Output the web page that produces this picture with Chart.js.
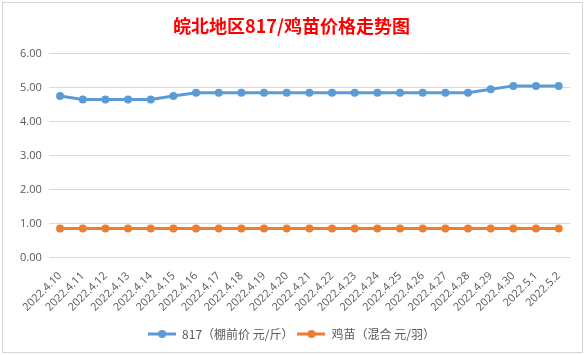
<!DOCTYPE html>
<html>
<head>
<meta charset="utf-8">
<script src="https://cdn.jsdelivr.net/npm/chart.js@4/dist/chart.umd.min.js"></script>
<style>
  html,body{margin:0;padding:0;background:#fff;}
  #wrap{position:absolute;left:2px;top:2px;width:579px;height:349px;border:1px solid #d4d4dc;background:#fff;}
  canvas{display:block;}
</style>
</head>
<body>
<div id="wrap"><canvas id="c" width="579" height="349"></canvas></div>
<script>
const titleText = '皖北地区817/鸡苗价格走势图';
const categories = ['2022.4.10','2022.4.11','2022.4.12','2022.4.13','2022.4.14','2022.4.15','2022.4.16','2022.4.17','2022.4.18','2022.4.19','2022.4.20','2022.4.21','2022.4.22','2022.4.23','2022.4.24','2022.4.25','2022.4.26','2022.4.27','2022.4.28','2022.4.29','2022.4.30','2022.5.1','2022.5.2'];
const series817Name = '817（棚前价 元/斤）';
const series817 = [4.75,4.65,4.65,4.65,4.65,4.75,4.85,4.85,4.85,4.85,4.85,4.85,4.85,4.85,4.85,4.85,4.85,4.85,4.85,4.95,5.05,5.05,5.05];
const chickName = '鸡苗（混合 元/羽）';
const chickValues = [0.85,0.85,0.85,0.85,0.85,0.85,0.85,0.85,0.85,0.85,0.85,0.85,0.85,0.85,0.85,0.85,0.85,0.85,0.85,0.85,0.85,0.85,0.85];
const yTicks = [0,1,2,3,4,5,6];

const BLUE = '#5B9BD5', ORANGE = '#ED7D31';
function legendIcon(color){
  const cv = document.createElement('canvas');
  cv.width = 28; cv.height = 10;
  const g = cv.getContext('2d');
  g.strokeStyle = color; g.lineWidth = 3;
  g.beginPath(); g.moveTo(0,5); g.lineTo(28,5); g.stroke();
  g.fillStyle = color; g.beginPath(); g.arc(14,5,4,0,Math.PI*2); g.fill();
  return cv;
}
const icons = [legendIcon(BLUE), legendIcon(ORANGE)];

new Chart(document.getElementById('c'), {
  type: 'line',
  data: {
    labels: categories,
    datasets: [
      {label: series817Name, data: series817, borderColor: BLUE, backgroundColor: BLUE, borderWidth: 3, pointRadius: 4, pointHoverRadius: 4, pointBorderWidth: 0, tension: 0},
      {label: chickName, data: chickValues, borderColor: ORANGE, backgroundColor: ORANGE, borderWidth: 3, pointRadius: 4, pointHoverRadius: 4, pointBorderWidth: 0, tension: 0}
    ]
  },
  options: {
    responsive: false,
    animation: false,
    layout: {padding: {left: 10, right: 12, top: 0, bottom: 2}},
    plugins: {
      title: {display: true, text: titleText, color: '#FF0000', font: {family: '"Noto Sans CJK SC"', size: 18, weight: 'bold'}, padding: {top: 12, bottom: 17}},
      legend: {
        position: 'bottom',
        labels: {
          color: '#595959', font: {family: '"Noto Sans CJK SC", "Noto Sans"', size: 12},
          usePointStyle: true, pointStyleWidth: 28, padding: 4,
          generateLabels: (chart) => chart.data.datasets.map((d,i) => ({text: d.label, pointStyle: icons[i], fillStyle: d.borderColor, strokeStyle: d.borderColor, lineWidth: 0, fontColor: '#595959', datasetIndex: i, hidden: false}))
        }
      },
      tooltip: {enabled: false}
    },
    scales: {
      x: {
        offset: true,
        grid: {display: false},
        border: {display: false},
        afterFit: (s) => { s.height += 6; },
        ticks: {color: '#595959', font: {family: '"Open Sans", "Noto Sans"', size: 11}, maxRotation: 45, minRotation: 45, autoSkip: false, padding: 4}
      },
      y: {
        min: 0, max: 6,
        afterBuildTicks: (s) => { s.ticks = yTicks.map(v => ({value: v})); },
        grid: {color: '#D9D9D9', lineWidth: 1, drawTicks: false},
        border: {display: false},
        ticks: {color: '#595959', font: {family: '"Open Sans", "Noto Sans"', size: 11}, padding: 7, callback: (v) => Number(v).toFixed(2)}
      }
    }
  }
});
</script>
</body>
</html>
